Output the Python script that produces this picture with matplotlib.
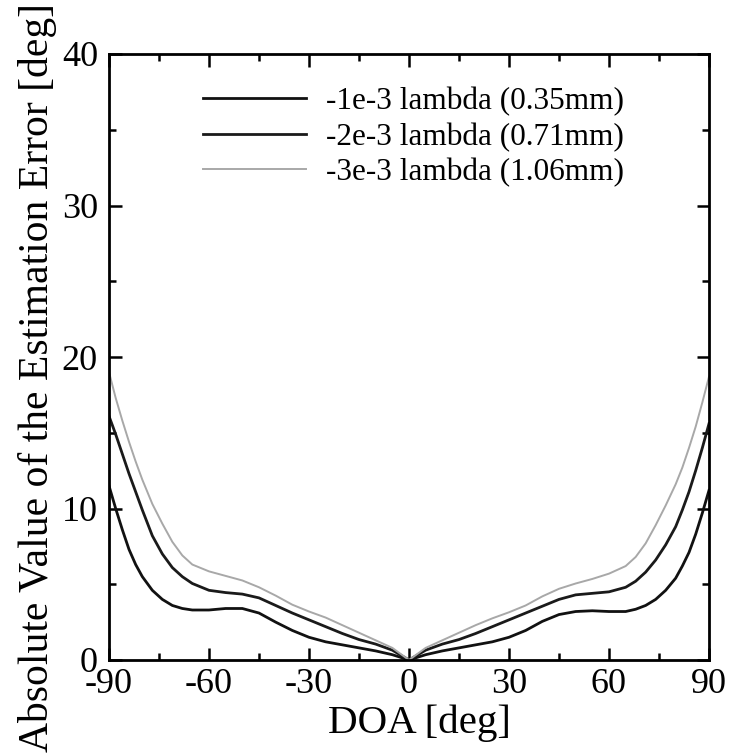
import matplotlib
matplotlib.use("Agg")
import matplotlib.pyplot as plt
from matplotlib.ticker import MultipleLocator

plt.rcParams['font.family'] = ['Liberation Serif', 'DejaVu Serif']
plt.rcParams['axes.unicode_minus'] = False

# DOA angles [deg]
doa = [-90, -88, -86, -84, -82, -80, -77, -74, -71, -68, -65, -60, -55, -50,
       -45, -40, -35, -30, -25, -20, -15, -10, -5, 0,
       5, 10, 15, 20, 25, 30, 35, 40, 45, 50, 55, 60, 65, 68, 71, 74, 77,
       80, 82, 84, 86, 88, 90]

# absolute estimation error [deg]
err_1e3 = [11.5, 10.0, 8.6, 7.3, 6.3, 5.5, 4.6, 4.0, 3.6, 3.4, 3.3, 3.3, 3.4, 3.4,
           3.1, 2.5, 1.95, 1.5, 1.2, 1.0, 0.8, 0.6, 0.35, 0.0,
           0.35, 0.6, 0.8, 1.0, 1.2, 1.5, 1.95, 2.55, 3.0, 3.2, 3.25, 3.2, 3.2, 3.35, 3.6, 4.0, 4.6,
           5.4, 6.2, 7.1, 8.3, 9.7, 11.2]
err_2e3 = [16.1, 14.9, 13.6, 12.3, 11.1, 9.9, 8.2, 7.0, 6.1, 5.5, 5.05, 4.6, 4.45, 4.35,
           4.1, 3.6, 3.1, 2.65, 2.2, 1.75, 1.35, 1.05, 0.65, 0.0,
           0.65, 1.05, 1.35, 1.75, 2.2, 2.65, 3.1, 3.55, 4.0, 4.3, 4.4, 4.5, 4.8, 5.2, 5.8, 6.6, 7.6,
           8.8, 9.9, 11.1, 12.5, 14.0, 15.6]
err_3e3 = [19.0, 17.3, 15.8, 14.4, 13.1, 11.9, 10.3, 9.0, 7.8, 6.9, 6.3, 5.85, 5.55, 5.25,
           4.8, 4.25, 3.65, 3.2, 2.8, 2.3, 1.8, 1.3, 0.8, 0.0,
           0.8, 1.3, 1.8, 2.3, 2.75, 3.15, 3.6, 4.2, 4.7, 5.05, 5.35, 5.7, 6.2, 6.8, 7.7, 8.9, 10.2,
           11.6, 12.7, 14.0, 15.4, 17.0, 18.7]

labels = ['-1e-3 lambda (0.35mm)', '-2e-3 lambda (0.71mm)', '-3e-3 lambda (1.06mm)']

fig = plt.figure(figsize=(7.32, 7.56), dpi=100)
ax = fig.add_axes([109 / 732, 96 / 756, 600 / 732, 606 / 756])

ax.plot(doa, err_1e3, color='#111111', lw=2.0, label=labels[0])
ax.plot(doa, err_2e3, color='#1a1a1a', lw=2.0, label=labels[1])
ax.plot(doa, err_3e3, color='#a8a8a8', lw=1.4, label=labels[2])

ax.set_xlim(-90, 90)
ax.set_ylim(0, 40)
ax.xaxis.set_major_locator(MultipleLocator(30))
ax.xaxis.set_minor_locator(MultipleLocator(15))
ax.yaxis.set_major_locator(MultipleLocator(10))
ax.yaxis.set_minor_locator(MultipleLocator(5))
ax.tick_params(which='both', direction='in', top=True, right=True, width=1.8)
ax.tick_params(which='major', length=9, labelsize=26)
ax.tick_params(which='minor', length=5)
ax.tick_params(axis='x', pad=6)
ax.tick_params(axis='y', pad=8)
for s in ax.spines.values():
    s.set_linewidth(2.0)

ax.legend(loc='upper left', bbox_to_anchor=((203 - 109) / 600, (660 - 87) / 606),
          frameon=False, fontsize=22.5, handlelength=3.3, handletextpad=0.65,
          labelspacing=0.2, borderpad=0, borderaxespad=0)

fig.text(419 / 732, 1 - 723 / 756, 'DOA [deg]', fontsize=29.5, ha='center', va='center')
fig.text(38 / 732, 4 / 756, 'Absolute Value of the Estimation Error [deg]',
         fontsize=30, rotation=90, ha='center', va='bottom')

fig.savefig('out.png', dpi=100)
